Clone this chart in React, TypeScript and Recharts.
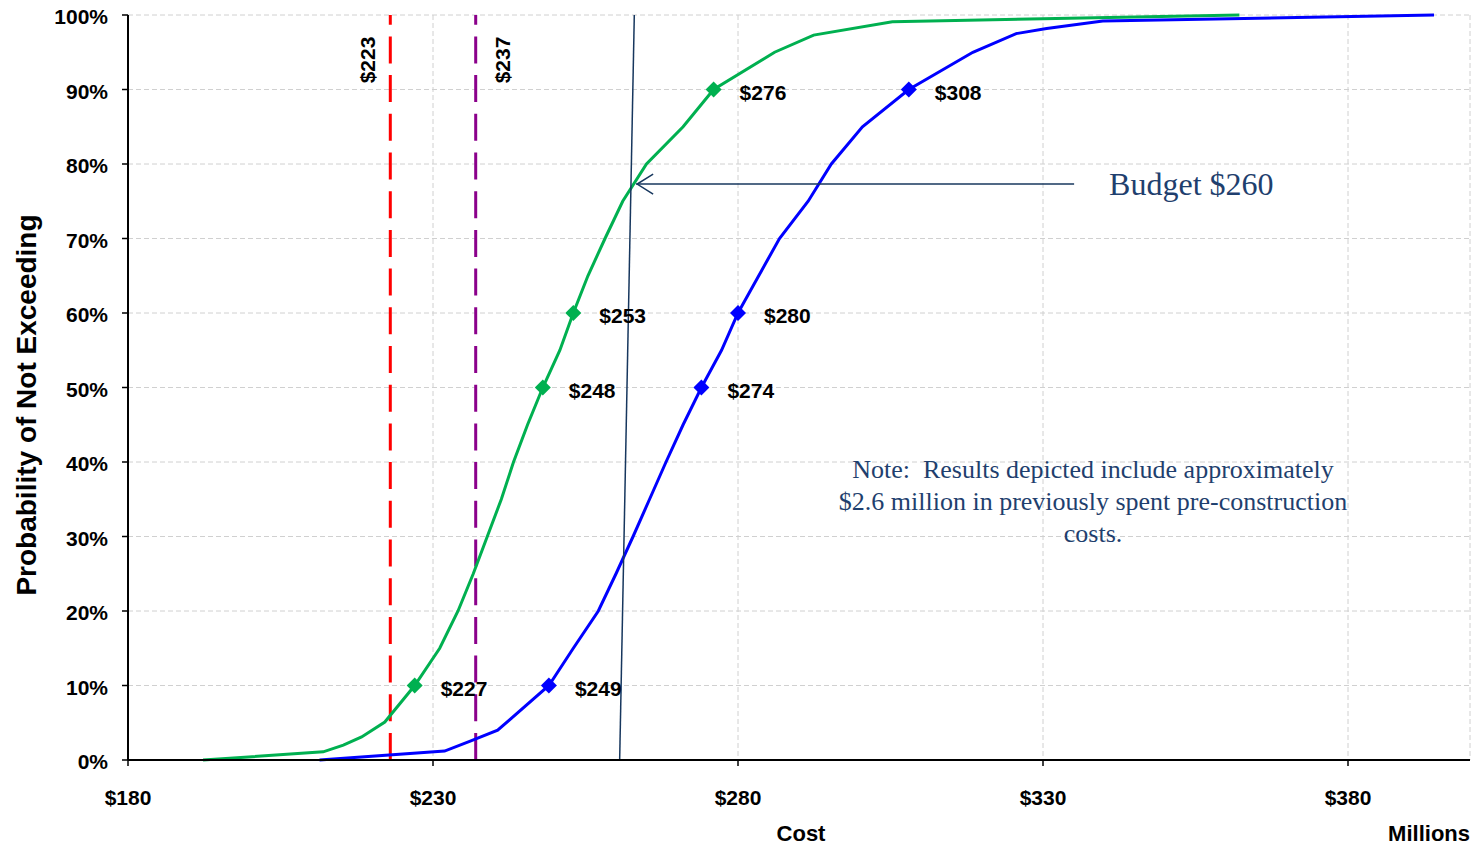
import React from 'react';
import { ComposedChart, Line, XAxis, YAxis, CartesianGrid, ReferenceLine } from 'recharts';

// Cost axis (millions of dollars) and probability axis (percent)
const costTicks = [180, 230, 280, 330, 380];
const probTicks = [0, 10, 20, 30, 40, 50, 60, 70, 80, 90, 100];

// Lower estimate S-curve (green)
const lowCost = [192.3, 212, 215.3, 218.3, 222.1, 227, 231.1, 234.1, 236.6, 238.9, 241.2, 243.2, 245.5, 248, 250.8, 253, 255.4, 258.2, 261.1, 265, 271, 276, 286, 292.4, 305.3, 330, 362.2];
const lowProb = [0, 1.1, 2, 3.1, 5.1, 10, 15, 20, 25, 30, 35, 40, 45, 50, 55, 60, 65, 70, 75, 80, 85, 90, 95, 97.3, 99.1, 99.5, 100];
const lowMarked = [10, 50, 60, 90];

// Higher estimate S-curve (blue)
const highCost = [211.4, 231.9, 236, 240.6, 249, 253, 257.1, 260, 262.8, 265.5, 268.2, 271, 274, 277.3, 280, 283.4, 286.8, 291.5, 295.3, 300.4, 308, 318.5, 325.6, 330.6, 339.8, 394.1];
const highProb = [0, 1.2, 2.5, 4, 10, 15, 20, 25, 30, 35, 40, 45, 50, 55, 60, 65, 70, 75, 80, 85, 90, 95, 97.5, 98.2, 99.2, 100];
const highMarked = [10, 50, 60, 90];

// Reference costs
const floorCost = 223;
const targetCost = 237;
const budgetCost = [260.6, 263];
const budgetProb = [0, 100];
const budgetArrowCost = [335.1, 263.3];
const budgetArrowProb = 77.3;
const budgetLabel = 'Budget $260';

const noteLines = [
  'Note:  Results depicted include approximately',
  '$2.6 million in previously spent pre-construction',
  'costs.',
];

const SANS = '"Liberation Sans", Arial, Helvetica, sans-serif';
const SERIF = '"Liberation Serif", "Times New Roman", Times, serif';
const NAVY = '#17375E';
const NOTE = '#1F3F6E';
const GREEN = '#00B050';
const BLUE = '#0000FF';

const buildSeries = (costs: number[], probs: number[], marked: number[]) =>
  costs.map((cost, i) => ({ cost, prob: probs[i], marked: marked.includes(probs[i]) }));

const lowData = buildSeries(lowCost, lowProb, lowMarked);
const highData = buildSeries(highCost, highProb, highMarked);

const makeDot = (color: string, name: string) => (props: any) => {
  const { cx, cy, payload, index } = props;
  const key = `${name}-dot-${index}`;
  if (!payload || !payload.marked) return <g key={key} />;
  const h = 8;
  return (
    <g key={key}>
      <polygon points={`${cx},${cy - h} ${cx + h},${cy} ${cx},${cy + h} ${cx - h},${cy}`} fill={color} />
      <text x={cx + 26} y={cy + 3} dy="0.35em" fontFamily={SANS} fontWeight="bold" fontSize={21} fill="#000">
        {`$${payload.cost}`}
      </text>
    </g>
  );
};

const dashedMarker = (color: string, label: string, offset: number) => (props: any) => {
  const { x1, y1, y2 } = props;
  const bottom = Math.max(y1, y2);
  const top = Math.min(y1, y2);
  const tx = x1 + offset;
  const ty = top + 45;
  return (
    <g>
      <line x1={x1} y1={bottom} x2={x1} y2={top} stroke={color} strokeWidth={3} strokeDasharray="27 11.7" />
      <text
        x={tx}
        y={ty}
        dy="0.35em"
        textAnchor="middle"
        transform={`rotate(-90 ${tx} ${ty})`}
        fontFamily={SANS}
        fontWeight="bold"
        fontSize={21}
        fill="#000"
      >
        {label}
      </text>
    </g>
  );
};

const BudgetLine = (props: any) => {
  const { x1, y1, x2, y2 } = props;
  return <line x1={x1} y1={y1} x2={x2} y2={y2} stroke={NAVY} strokeWidth={1.5} />;
};

const BudgetArrow = (props: any) => {
  const { x1, x2, y1 } = props;
  const tip = Math.min(x1, x2);
  const tail = Math.max(x1, x2);
  const y = y1;
  return (
    <g>
      <line x1={tip} y1={y} x2={tail} y2={y} stroke={NAVY} strokeWidth={1.5} />
      <polyline
        points={`${tip + 17},${y - 10} ${tip + 1},${y} ${tip + 17},${y + 10}`}
        fill="none"
        stroke={NAVY}
        strokeWidth={1.5}
      />
      <text x={tail + 35} y={y} dy="0.35em" fontFamily={SERIF} fontSize={32} fill={NOTE}>
        {budgetLabel}
      </text>
    </g>
  );
};

const CostTick = (props: any) => {
  const { x, y, payload } = props;
  return (
    <text x={x} y={y + 30} dy="0.35em" textAnchor="middle" fontFamily={SANS} fontWeight="bold" fontSize={21} fill="#000">
      {`$${payload.value}`}
    </text>
  );
};

const ProbTick = (props: any) => {
  const { x, y, payload } = props;
  return (
    <text x={x} y={y + 2} dy="0.35em" textAnchor="end" fontFamily={SANS} fontWeight="bold" fontSize={21} fill="#000">
      {`${payload.value}%`}
    </text>
  );
};

export default function App() {
  return (
    <div style={{ position: 'absolute', left: 0, top: 0, width: 1476, height: 845, background: '#fff' }}>
      <ComposedChart width={1476} height={845} margin={{ top: 15, right: 6, bottom: 0, left: 0 }}>
        <CartesianGrid stroke="#D0D0D0" strokeDasharray="5 3" strokeWidth={1} />
        <XAxis
          type="number"
          dataKey="cost"
          domain={[180, 400]}
          ticks={costTicks}
          allowDataOverflow
          height={85}
          tickSize={6}
          tickMargin={2}
          axisLine={{ stroke: '#000', strokeWidth: 2 }}
          tickLine={{ stroke: '#000', strokeWidth: 1.5 }}
          tick={<CostTick />}
        />
        <YAxis
          type="number"
          domain={[0, 100]}
          ticks={probTicks}
          width={128}
          tickSize={6}
          tickMargin={14}
          axisLine={{ stroke: '#000', strokeWidth: 2 }}
          tickLine={{ stroke: '#000', strokeWidth: 1.5 }}
          tick={<ProbTick />}
        />
        <ReferenceLine x={floorCost} shape={dashedMarker('#FF0000', `$${floorCost}`, -23)} />
        <ReferenceLine x={targetCost} shape={dashedMarker('#8B008B', `$${targetCost}`, 27)} />
        <Line
          data={lowData}
          dataKey="prob"
          type="linear"
          stroke={GREEN}
          strokeWidth={3}
          dot={makeDot(GREEN, 'low')}
          activeDot={false}
          isAnimationActive={false}
        />
        <Line
          data={highData}
          dataKey="prob"
          type="linear"
          stroke={BLUE}
          strokeWidth={3}
          dot={makeDot(BLUE, 'high')}
          activeDot={false}
          isAnimationActive={false}
        />
        <ReferenceLine
          segment={[
            { x: budgetCost[0], y: budgetProb[0] },
            { x: budgetCost[1], y: budgetProb[1] },
          ]}
          shape={BudgetLine}
        />
        <ReferenceLine
          segment={[
            { x: budgetArrowCost[0], y: budgetArrowProb },
            { x: budgetArrowCost[1], y: budgetArrowProb },
          ]}
          shape={BudgetArrow}
        />
      </ComposedChart>

      <div
        style={{
          position: 'absolute',
          left: 27,
          top: 405,
          transform: 'translate(-50%, -50%) rotate(-90deg)',
          whiteSpace: 'nowrap',
          fontFamily: SANS,
          fontWeight: 'bold',
          fontSize: 28,
          lineHeight: 1,
          color: '#000',
        }}
      >
        Probability of Not Exceeding
      </div>
      <div
        style={{
          position: 'absolute',
          left: 801,
          top: 834,
          transform: 'translate(-50%, -50%)',
          fontFamily: SANS,
          fontWeight: 'bold',
          fontSize: 22,
          lineHeight: 1,
          color: '#000',
        }}
      >
        Cost
      </div>
      <div
        style={{
          position: 'absolute',
          right: 6,
          top: 834,
          transform: 'translateY(-50%)',
          fontFamily: SANS,
          fontWeight: 'bold',
          fontSize: 22,
          lineHeight: 1,
          color: '#000',
        }}
      >
        Millions
      </div>
      <div
        style={{
          position: 'absolute',
          left: 1093,
          top: 454,
          transform: 'translateX(-50%)',
          textAlign: 'center',
          fontFamily: SERIF,
          fontSize: 26,
          lineHeight: '32px',
          color: NOTE,
          whiteSpace: 'pre',
        }}
      >
        {noteLines.map((l) => (
          <div key={l}>{l}</div>
        ))}
      </div>
    </div>
  );
}
